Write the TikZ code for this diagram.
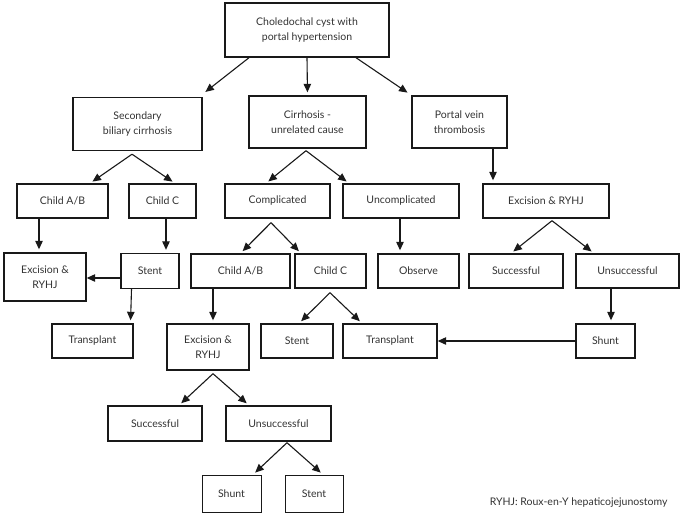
\documentclass[tikz,border=0pt]{standalone}
\usepackage{fontspec}
\setmainfont{Lato}
\usetikzlibrary{arrows.meta}
\definecolor{lineGray}{RGB}{25,25,25}
\definecolor{textGray}{RGB}{50,50,50}

\begin{document}
\begin{tikzpicture}[x=1pt, y=-1pt,
    box/.style={draw=lineGray, line width=1.4pt, text=textGray, align=center, inner sep=0pt,
      font=\fontsize{10.5}{15}\selectfont},
    thinbox/.style={box, line width=0.8pt},
    arr/.style={-{Triangle[length=8.5pt,width=7.5pt]}, line width=1.1pt, lineGray, shorten >=3pt}]
  \useasboundingbox (0,0) rectangle (685,515);
  % top and second row
  \node[box, minimum width=164pt, minimum height=54pt] (top) at (307,30) {Choledochal cyst with\\portal hypertension};
  \node[box, minimum width=129pt, minimum height=53pt] (sbc) at (137.5,124) {Secondary\\biliary cirrhosis};
  \node[box, minimum width=117pt, minimum height=52pt] (cir) at (307.5,122) {Cirrhosis -\\unrelated cause};
  \node[box, minimum width=95pt, minimum height=52pt] (pvt) at (459.5,122) {Portal vein\\thrombosis};
  % third row
  \node[box, minimum width=91pt, minimum height=34pt] (cab1) at (62.5,201) {Child A/B};
  \node[box, minimum width=67pt, minimum height=34pt] (cc1) at (162.5,201) {Child C};
  \node[box, minimum width=105pt, minimum height=34pt] (comp) at (277.5,201) {Complicated};
  \node[box, minimum width=116pt, minimum height=34pt] (uncomp) at (401,201) {Uncomplicated};
  \node[box, minimum width=126pt, minimum height=34pt] (exc3) at (546,201) {Excision \& RYHJ};
  % fourth row
  \node[box, minimum width=82pt, minimum height=48pt] (exc1) at (45,277) {Excision \&\\RYHJ};
  \node[box, minimum width=58pt, minimum height=35pt] (stent1) at (150,271) {Stent};
  \node[box, minimum width=99pt, minimum height=34pt] (cab2) at (240.5,271) {Child A/B};
  \node[box, minimum width=71pt, minimum height=34pt] (cc2) at (330.5,271) {Child C};
  \node[box, minimum width=81pt, minimum height=34pt] (obs) at (418.5,271) {Observe};
  \node[box, minimum width=94pt, minimum height=34pt] (succ1) at (516,271) {Successful};
  \node[box, minimum width=103pt, minimum height=34pt] (unsucc1) at (627.5,271) {Unsuccessful};
  % fifth row
  \node[box, minimum width=81pt, minimum height=34pt] (trans1) at (92.5,341) {Transplant};
  \node[box, minimum width=82pt, minimum height=46pt] (exc2) at (208,347) {Excision \&\\RYHJ};
  \node[box, minimum width=72pt, minimum height=34pt] (stent2) at (297,341) {Stent};
  \node[box, minimum width=94pt, minimum height=34pt] (trans2) at (390,341) {Transplant};
  \node[box, minimum width=59pt, minimum height=34pt] (shunt1) at (605.5,341) {Shunt};
  % last rows
  \node[box, minimum width=94pt, minimum height=35pt] (succ2) at (155,423.5) {Successful};
  \node[box, minimum width=105pt, minimum height=35pt] (unsucc2) at (278.5,423.5) {Unsuccessful};
  \node[thinbox, minimum width=59pt, minimum height=37pt] (shunt2) at (231.5,493.5) {Shunt};
  \node[thinbox, minimum width=58pt, minimum height=37pt] (stent3) at (314,493.5) {Stent};
  \node[anchor=east, text=textGray, font=\fontsize{10.5}{12}\selectfont] (note) at (671,503) {RYHJ: Roux-en-Y hepaticojejunostomy};

  % arrows from the top box
  \draw[arr] ([xshift=-58pt]top.south) -- ([xshift=65.5pt, yshift=3pt]sbc.north);
  \draw[arr] (top.south) -- (cir.north);
  \draw[arr] ([xshift=49pt]top.south) -- ([xshift=-49.5pt, yshift=1pt]pvt.north);
  % second row splits
  \draw[arr] ([xshift=-5.5pt, yshift=-3pt]sbc.south) -- ([xshift=27.5pt]cab1.north);
  \draw[arr] ([xshift=-5.5pt, yshift=-3pt]sbc.south) -- ([xshift=12.5pt]cc1.north);
  \draw[arr] ([xshift=-1.5pt, yshift=-2pt]cir.south) -- ([xshift=-11.5pt]comp.north);
  \draw[arr] ([xshift=-1.5pt, yshift=-2pt]cir.south) -- ([xshift=-52pt]uncomp.north);
  \draw[arr] ([xshift=33.5pt]pvt.south) -- ([xshift=-53pt]exc3.north);
  % third row
  \draw[arr] ([xshift=-23.5pt]cab1.south) -- ([xshift=-6pt]exc1.north);
  \draw[arr] ([xshift=3.5pt]cc1.south) -- ([xshift=16pt]stent1.north);
  \draw[arr] ([xshift=-6.5pt, yshift=-4pt]comp.south) -- (cab2.north);
  \draw[arr] ([xshift=-6.5pt, yshift=-4pt]comp.south) -- ([xshift=-29.5pt]cc2.north);
  \draw[arr] ([xshift=-1pt]uncomp.south) -- ([xshift=-18.5pt]obs.north);
  \draw[arr] ([xshift=6pt, yshift=-2pt]exc3.south) -- ([xshift=-5pt]succ1.north);
  \draw[arr] ([xshift=6pt, yshift=-2pt]exc3.south) -- ([xshift=-33.5pt]unsucc1.north);
  % fourth row
  \draw[arr, shorten >=0pt] ([yshift=-7pt]stent1.west) -- ([yshift=-1pt]exc1.east);
  \draw[arr] ([xshift=-18.5pt]stent1.south) -- ([xshift=38pt]trans1.north);
  \draw[arr] ([xshift=-27.5pt]cab2.south) -- ([xshift=5pt]exc2.north);
  \draw[arr] ([xshift=-0.5pt, yshift=-4pt]cc2.south) -- ([xshift=2pt]stent2.north);
  \draw[arr] ([xshift=-0.5pt, yshift=-4pt]cc2.south) -- ([xshift=-28pt]trans2.north);
  \draw[arr] ([xshift=-16.5pt]unsucc1.south) -- ([xshift=5.5pt]shunt1.north);
  \draw[arr, shorten >=0pt] (shunt1.west) -- (trans2.east);
  % lower splits
  \draw[arr] ([xshift=5pt, yshift=-3pt]exc2.south) -- ([xshift=24pt]succ2.north);
  \draw[arr] ([xshift=5pt, yshift=-3pt]exc2.south) -- ([xshift=-29.5pt]unsucc2.north);
  \draw[arr] ([xshift=8.5pt, yshift=-1pt]unsucc2.south) -- ([xshift=21.5pt]shunt2.north);
  \draw[arr] ([xshift=8.5pt, yshift=-1pt]unsucc2.south) -- ([xshift=9pt]stent3.north);
\end{tikzpicture}
\end{document}
